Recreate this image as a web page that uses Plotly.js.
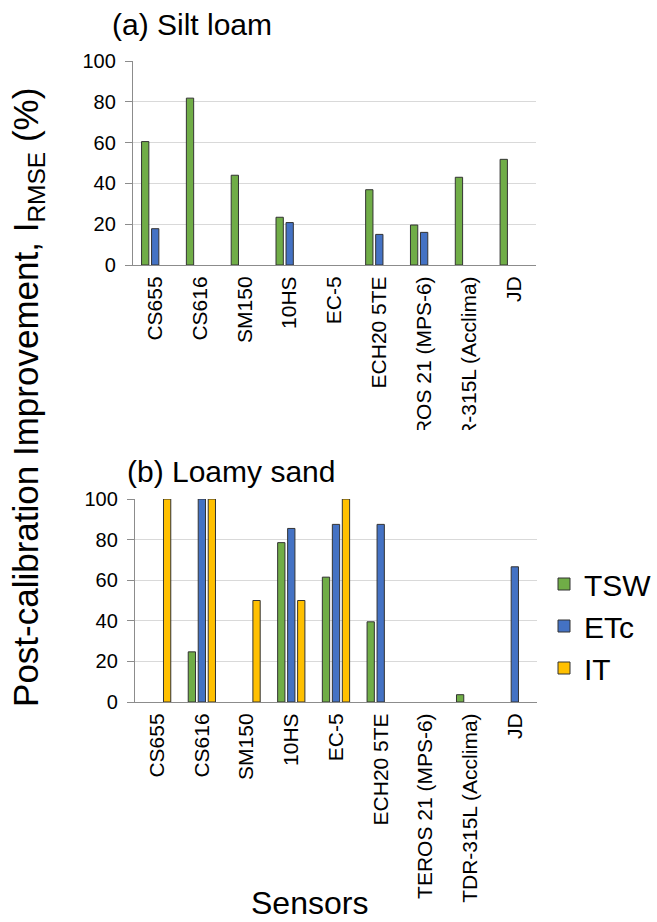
<!DOCTYPE html>
<html>
<head>
<meta charset="utf-8">
<script src="https://cdn.plot.ly/plotly-3.0.1.min.js"></script>
<style>html,body{margin:0;padding:0;background:#fff;}#chart{width:657px;height:922px;}</style>
</head>
<body>
<div id="chart"></div>
<script>
const sensors = ['CS655','CS616','SM150','10HS','EC-5','ECH20 5TE','TEROS 21 (MPS-6)','TDR-315L (Acclima)','JD'];
const seriesNames = ['TSW','ETc','IT'];
const seriesColors = ['#70AD47','#4472C4','#FFC000'];

// (a) Silt loam
const siltTSW = [60.5, 81.8, 44.0, 23.4, null, 36.9, 19.6, 43.0, 51.8];
const siltETc = [17.8, null, null, 20.8, null, 15.0, 16.0, null, null];
const siltIT  = [null, null, null, null, null, null, null, null, null];

// (b) Loamy sand
const sandTSW = [null, 24.7, null, 78.5, 61.5, 39.5, null, 3.6, null];
const sandETc = [null, 100, null, 85.5, 87.5, 87.5, null, null, 66.6];
const sandIT  = [100, 100, 50, 50, 100, null, null, null, null];

const FONT = '"Liberation Sans", Arial, sans-serif';
const silt = [siltTSW, siltETc, siltIT];
const sand = [sandTSW, sandETc, sandIT];

const traces = [];
silt.forEach((vals, i) => traces.push({
  type: 'bar', x: sensors, y: vals, name: seriesNames[i], xaxis: 'x', yaxis: 'y',
  marker: {color: seriesColors[i], line: {color: '#333333', width: 1}},
  showlegend: false, legendgroup: seriesNames[i]
}));
sand.forEach((vals, i) => traces.push({
  type: 'bar', x: sensors, y: vals, name: seriesNames[i], xaxis: 'x2', yaxis: 'y2',
  marker: {color: seriesColors[i], line: {color: '#333333', width: 1}},
  showlegend: true, legendgroup: seriesNames[i]
}));

const W = 657, H = 922;
const px = v => v / W;
const py = v => 1 - v / H;

const xCommon = {
  type: 'category', showgrid: false, ticks: '', tickangle: -90,
  tickfont: {family: FONT, size: 21, color: '#000'},
  showline: true, linecolor: '#8c8c8c', linewidth: 1,
  ticklabelstandoff: 2, fixedrange: true
};
const yCommon = {
  range: [0, 100], dtick: 20, showgrid: true, gridcolor: '#d9d9d9', gridwidth: 1,
  ticks: 'outside', ticklen: 7, tickcolor: '#8c8c8c',
  showline: true, linecolor: '#8c8c8c', linewidth: 1, zeroline: false,
  ticklabelstandoff: 5,
  tickfont: {family: FONT, size: 20, color: '#000'}, fixedrange: true
};

const layout = {
  width: W, height: H,
  margin: {l: 0, r: 0, t: 0, b: 0},
  paper_bgcolor: '#fff', plot_bgcolor: '#fff',
  barmode: 'group', bargap: 0.33, bargroupgap: 0.27,
  xaxis: Object.assign({}, xCommon, {domain: [px(133), px(537)], anchor: 'y'}),
  yaxis: Object.assign({}, yCommon, {domain: [py(265), py(61)], anchor: 'x'}),
  xaxis2: Object.assign({}, xCommon, {domain: [px(135), px(538)], anchor: 'y2'}),
  yaxis2: Object.assign({}, yCommon, {domain: [py(702), py(499)], anchor: 'x2'}),
  showlegend: true,
  legend: {
    x: px(545), y: py(558), xanchor: 'left', yanchor: 'top',
    font: {family: FONT, size: 30, color: '#000'},
    bgcolor: 'rgba(0,0,0,0)', traceorder: 'normal'
  },
  shapes: [
    {type: 'rect', xref: 'paper', yref: 'paper', layer: 'above',
     x0: px(380), x1: px(545), y0: py(492), y1: py(430),
     fillcolor: '#fff', line: {width: 0}}
  ],
  annotations: [
    {text: '(a) Silt loam', xref: 'paper', yref: 'paper', x: px(110), y: py(25),
     xanchor: 'left', yanchor: 'middle', showarrow: false,
     font: {family: FONT, size: 30, color: '#000'}},
    {text: '(b) Loamy sand', xref: 'paper', yref: 'paper', x: px(125), y: py(471),
     xanchor: 'left', yanchor: 'middle', showarrow: false,
     font: {family: FONT, size: 30, color: '#000'}},
    {text: 'Post-calibration Improvement, I<sub>RMSE</sub> (%)', xref: 'paper', yref: 'paper',
     x: px(28), y: py(397), xanchor: 'center', yanchor: 'middle', textangle: -90, showarrow: false,
     font: {family: FONT, size: 35, color: '#000'}},
    {text: 'Sensors', xref: 'paper', yref: 'paper', x: px(310), y: py(903),
     xanchor: 'center', yanchor: 'middle', showarrow: false,
     font: {family: FONT, size: 32, color: '#000'}}
  ]
};

Plotly.newPlot('chart', traces, layout, {staticPlot: true, displayModeBar: false});
</script>
</body>
</html>
